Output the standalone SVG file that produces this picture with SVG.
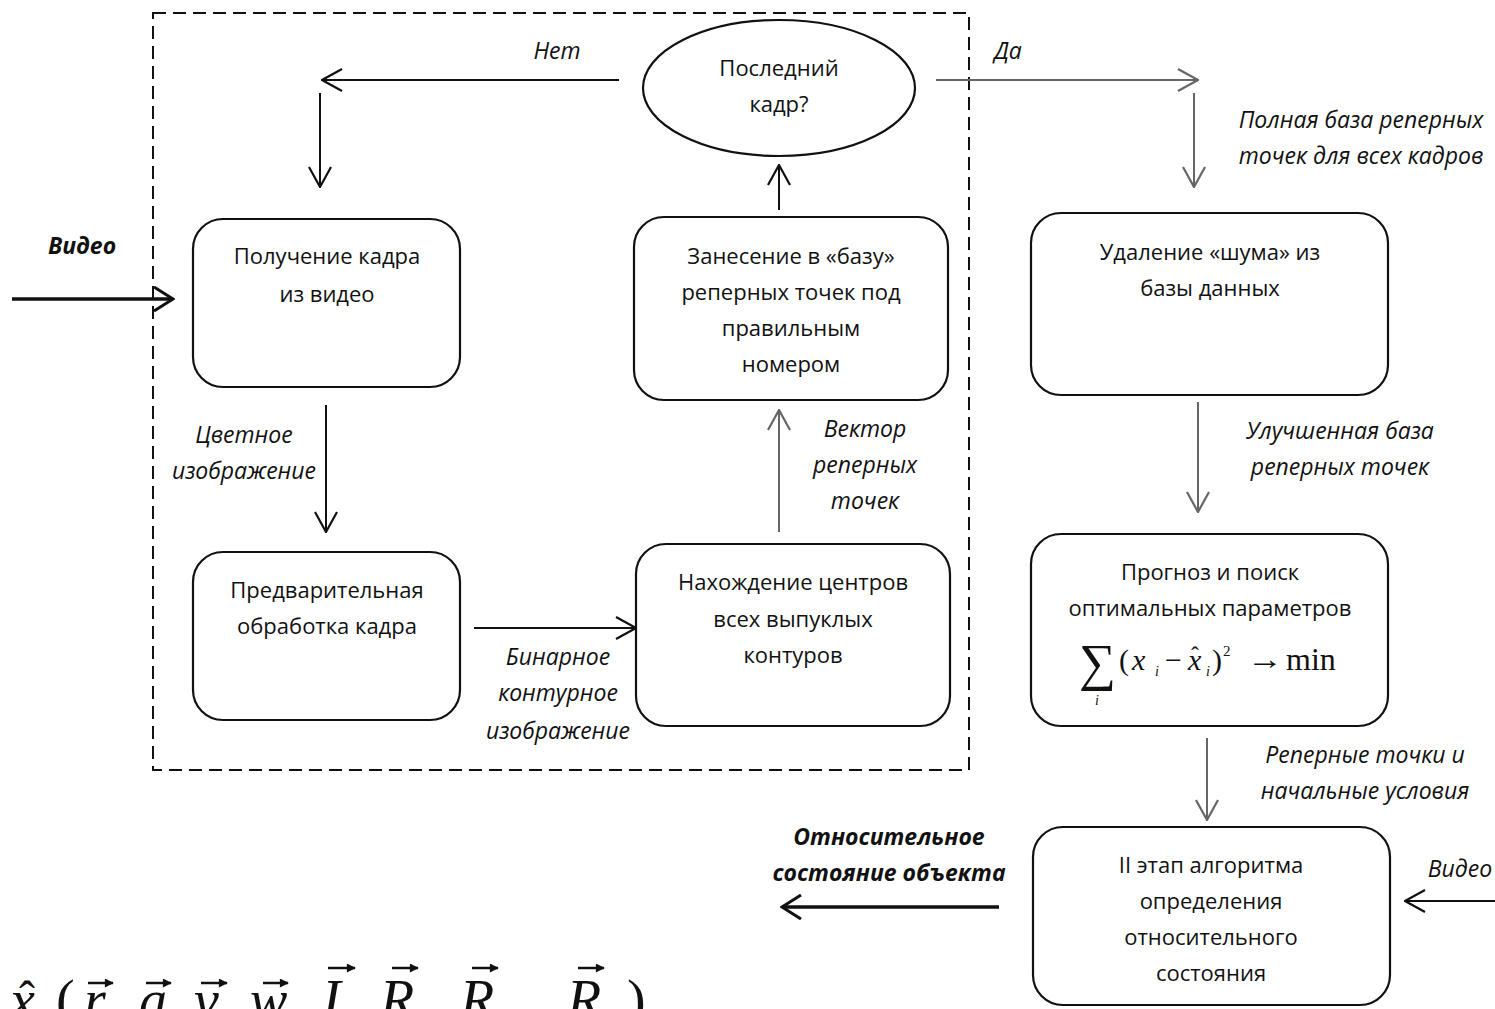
<svg xmlns="http://www.w3.org/2000/svg" width="1495" height="1009" viewBox="0 0 1495 1009">
<defs>
<style>
.box{fill:#fff;stroke:#111;stroke-width:2.2}
.t{font-family:"Open Sans","Noto Sans","DejaVu Sans",sans-serif;font-size:22px;fill:#111;text-anchor:middle}
.l{font-family:"Open Sans","Noto Sans","DejaVu Sans",sans-serif;font-size:23px;font-style:italic;fill:#111;text-anchor:middle}
.lb{font-weight:bold}
.c{fill:none;stroke:#111;stroke-width:2}
.g{fill:none;stroke:#666;stroke-width:2}
.k{fill:none;stroke:#111;stroke-width:3.5}
.m{font-family:"Liberation Serif","Times New Roman",serif;fill:#111}
.acc{fill:none;stroke:#111;stroke-width:2.5}
</style>
<marker id="ab" viewBox="0 0 22 24" refX="21" refY="12" markerWidth="22" markerHeight="24" markerUnits="userSpaceOnUse" orient="auto"><path d="M1,1 L21,12 L1,23" fill="none" stroke="#111" stroke-width="2.2"/></marker>
<marker id="ag" viewBox="0 0 22 24" refX="21" refY="12" markerWidth="22" markerHeight="24" markerUnits="userSpaceOnUse" orient="auto"><path d="M1,1 L21,12 L1,23" fill="none" stroke="#666" stroke-width="2.2"/></marker>
<marker id="ak" viewBox="0 0 22 26" refX="20" refY="13" markerWidth="22" markerHeight="26" markerUnits="userSpaceOnUse" orient="auto"><path d="M1,1 L20,13 L1,25" fill="none" stroke="#111" stroke-width="3"/></marker>
<marker id="va" viewBox="0 0 10 10" refX="9" refY="5" markerWidth="10" markerHeight="9" markerUnits="userSpaceOnUse" orient="auto"><path d="M0,0 L10,5 L0,10 z" fill="#111"/></marker>
</defs>
<rect width="1495" height="1009" fill="#fff"/>

<rect x="153" y="13" width="816" height="757" fill="none" stroke="#111" stroke-width="2" stroke-dasharray="13,7"/>

<g id="connectors">
<path class="c" d="M619,80 H322" marker-end="url(#ab)"/>
<path class="c" d="M320,93 V187" marker-end="url(#ab)"/>
<path class="g" d="M936,80 H1198" marker-end="url(#ag)"/>
<path class="g" d="M1194,93 V187" marker-end="url(#ag)"/>
<path class="k" d="M12,299 H173" marker-end="url(#ak)"/>
<path class="c" d="M326,405 V532" marker-end="url(#ab)"/>
<path class="c" d="M474,628 H636" marker-end="url(#ab)"/>
<path class="g" d="M779,532 V410" marker-end="url(#ag)"/>
<path class="c" d="M779,210 V165" marker-end="url(#ab)"/>
<path class="g" d="M1198,402 V512" marker-end="url(#ag)"/>
<path class="g" d="M1207,738 V820" marker-end="url(#ag)"/>
<path class="k" d="M999,907 H782" marker-end="url(#ak)"/>
<path class="c" d="M1495,901 H1405" marker-end="url(#ab)"/>
<text class="l" x="557" y="59">Нет</text>
<text class="l" x="1008" y="59">Да</text>
<text class="l" x="1361" y="128">Полная база реперных</text>
<text class="l" x="1361" y="164">точек для всех кадров</text>
<text class="l lb" x="82" y="254">Видео</text>
<text class="l" x="244" y="443">Цветное</text>
<text class="l" x="244" y="479">изображение</text>
<text class="l" x="558" y="665">Бинарное</text>
<text class="l" x="558" y="701">контурное</text>
<text class="l" x="558" y="739">изображение</text>
<text class="l" x="865" y="437">Вектор</text>
<text class="l" x="865" y="473">реперных</text>
<text class="l" x="865" y="509">точек</text>
<text class="l" x="1340" y="439">Улучшенная база</text>
<text class="l" x="1340" y="475">реперных точек</text>
<text class="l" x="1365" y="763">Реперные точки и</text>
<text class="l" x="1365" y="799">начальные условия</text>
<text class="l lb" x="889" y="845">Относительное</text>
<text class="l lb" x="889" y="881">состояние объекта</text>
<text class="l" x="1460" y="877">Видео</text>
</g>

<g id="n-last">
<ellipse class="box" cx="779" cy="88" rx="136" ry="68"/>
<text class="t" x="779" y="76">Последний</text>
<text class="t" x="779" y="112">кадр?</text>
</g>

<g id="n-get">
<rect class="box" x="193" y="219" width="267" height="168" rx="30"/>
<text class="t" x="327" y="264">Получение кадра</text>
<text class="t" x="327" y="302">из видео</text>
</g>

<g id="n-pre">
<rect class="box" x="193" y="552" width="267" height="168" rx="30"/>
<text class="t" x="327" y="598">Предварительная</text>
<text class="t" x="327" y="634">обработка кадра</text>
</g>

<g id="n-centers">
<rect class="box" x="636" y="544" width="314" height="182" rx="30"/>
<text class="t" x="793" y="590">Нахождение центров</text>
<text class="t" x="793" y="627">всех выпуклых</text>
<text class="t" x="793" y="663">контуров</text>
</g>

<g id="n-store">
<rect class="box" x="634" y="217" width="314" height="183" rx="30"/>
<text class="t" x="791" y="264">Занесение в «базу»</text>
<text class="t" x="791" y="300">реперных точек под</text>
<text class="t" x="791" y="336">правильным</text>
<text class="t" x="791" y="372">номером</text>
</g>

<g id="n-noise">
<rect class="box" x="1031" y="213" width="357" height="182" rx="30"/>
<text class="t" x="1210" y="260">Удаление «шума» из</text>
<text class="t" x="1210" y="296">базы данных</text>
</g>

<g id="n-forecast">
<rect class="box" x="1031" y="534" width="357" height="192" rx="30"/>
<text class="t" x="1210" y="580">Прогноз и поиск</text>
<text class="t" x="1210" y="616">оптимальных параметров</text>
<text class="m" x="1079" y="680" font-size="52">∑</text>
<text class="m" x="1095" y="705" font-size="14" font-style="italic">i</text>
<text class="m" x="1119" y="670" font-size="30">(</text>
<text class="m" x="1132" y="670" font-size="30" font-style="italic">x</text>
<text class="m" x="1155" y="676" font-size="14" font-style="italic">i</text>
<text class="m" x="1165" y="670" font-size="30">−</text>
<text class="m" x="1188" y="670" font-size="30" font-style="italic">x</text>
<text class="m" x="1191" y="663" font-size="24">ˆ</text>
<text class="m" x="1206" y="676" font-size="14" font-style="italic">i</text>
<text class="m" x="1212" y="670" font-size="30">)</text>
<text class="m" x="1223" y="656" font-size="15">2</text>
<text class="m" x="1247" y="669" font-size="30" textLength="36" lengthAdjust="spacingAndGlyphs">→</text>
<text class="m" x="1286" y="670" font-size="32">min</text>
</g>

<g id="n-stage2">
<rect class="box" x="1033" y="827" width="357" height="178" rx="30"/>
<text class="t" x="1211" y="873">II этап алгоритма</text>
<text class="t" x="1211" y="909">определения</text>
<text class="t" x="1211" y="945">относительного</text>
<text class="t" x="1211" y="981">состояния</text>
</g>

<g id="formula">
<text class="m" font-size="56" font-style="italic" y="1019">
<tspan x="10">x</tspan><tspan x="56" font-style="normal">(</tspan><tspan x="84">r</tspan><tspan x="139">a</tspan><tspan x="194">v</tspan><tspan x="250">w</tspan><tspan x="322">I</tspan><tspan x="380">R</tspan><tspan x="460">R</tspan><tspan x="567">R</tspan><tspan x="627" font-style="normal">)</tspan>
</text>
<text class="m" x="19" y="1015" font-size="48">ˆ</text>
<path class="acc" d="M88,983 H113" marker-end="url(#va)"/>
<path class="acc" d="M146,983 H171" marker-end="url(#va)"/>
<path class="acc" d="M201,983 H227" marker-end="url(#va)"/>
<path class="acc" d="M263,983 H288" marker-end="url(#va)"/>
<path class="acc" d="M328,968 H355" marker-end="url(#va)"/>
<path class="acc" d="M392,968 H418" marker-end="url(#va)"/>
<path class="acc" d="M472,968 H498" marker-end="url(#va)"/>
<path class="acc" d="M578,968 H604" marker-end="url(#va)"/>
</g>
</svg>
